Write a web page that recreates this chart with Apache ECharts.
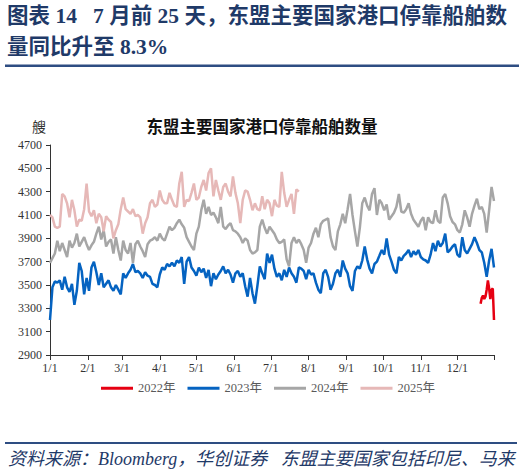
<!DOCTYPE html>
<html>
<head>
<meta charset="utf-8">
<script src="https://cdn.jsdelivr.net/npm/echarts@6/dist/echarts.min.js"></script>
<style>
html,body{margin:0;padding:0;background:#fff;}
#chart{width:524px;height:475px;}
</style>
</head>
<body>
<div id="chart"></div>
<script>
// ---------- data ----------
const monthLengths = [31,28,31,30,31,30,31,31,30,31,30,31];
const STEP = 2; // days between readings for 2023/2024/2025
const seriesNames = ['2022年','2023年','2024年','2025年'];

// 2022: daily readings for 12/20 - 12/31
const start2022 = 353;
const v2022 = [3340,3390,3410,3380,3400,3460,3540,3470,3380,3460,3470,3200];

const v2023 = [3200,3480,3530,3520,3540,3460,3570,3480,3440,3510,3330,3450,3690,3620,3420,3560,3450,3650,3700,3610,
3500,3600,3480,3510,3540,3480,3450,3500,3460,3420,3600,3560,3600,3630,3680,3610,3620,3600,3560,3610,
3580,3570,3510,3500,3480,3590,3650,3630,3680,3660,3690,3660,3710,3690,3740,3510,3700,3740,3650,3620,
3580,3650,3610,3640,3560,3630,3490,3600,3550,3590,3620,3660,3600,3630,3590,3520,3600,3620,3570,3600,
3490,3400,3560,3430,3340,3490,3660,3600,3550,3770,3690,3760,3640,3570,3600,3540,3630,3570,3650,3600,
3570,3520,3650,3640,3620,3550,3630,3590,3600,3520,3460,3430,3600,3630,3570,3460,3510,3600,3630,3570,
3710,3640,3600,3490,3450,3620,3660,3640,3710,3830,3720,3640,3600,3680,3700,3750,3800,3760,3900,3760,
3700,3630,3600,3740,3710,3750,3770,3800,3740,3790,3760,3800,3740,3720,3710,3690,3760,3860,3790,3880,
3830,3860,3940,3780,3800,3830,3850,3760,3740,3910,3800,3770,3810,3850,3910,3860,3800,3780,3690,3570,
3710,3810,3650];

const v2024 = [3690,3730,3770,3880,3790,3860,3800,3740,3880,3820,3860,3940,3830,3870,3910,3850,3800,3840,3870,3940,
4000,3890,3970,3830,3870,3890,3770,3910,3800,3710,3880,3800,3770,3860,3690,3850,3880,3830,3790,3740,
3850,3880,3890,3910,3880,3940,3900,3880,3940,4000,3970,3990,4030,4060,4020,3990,3910,3870,3830,3800,
3940,4000,4140,4230,4110,4170,4100,4120,4080,4030,4170,4000,3980,4010,4030,3970,3960,3940,3910,3860,
3900,3880,3800,3770,3780,3800,4000,4060,3990,3940,4000,3970,3940,3890,3860,3870,3890,3720,3660,3860,
3910,3860,3890,3850,3800,3690,3820,3860,3940,3990,3910,4020,4050,4060,4070,3910,3830,3800,3960,4020,
4110,4030,4150,4280,4100,3960,3830,3990,4200,4250,4180,4140,4280,4330,4100,4230,4200,4140,4190,4060,
4090,4120,4170,4280,4130,4120,4150,4200,4110,4060,4030,4000,4050,4080,3970,4080,4040,4030,4140,4050,
4030,4250,4280,4200,4090,4040,4020,3970,3950,4020,4140,4080,4000,4110,4180,4240,4150,4170,4110,3950,
4140,4340,4220];

const v2025 = [4100,4080,4000,3990,4000,4280,4260,4200,4080,4230,4140,4000,4060,4050,4150,4370,4130,4090,4140,4030,
4110,4080,3960,4090,4060,4040,3900,3970,4020,4150,4250,4150,4130,4110,4150,4090,4100,4080,3940,4030,
4080,4200,4230,4170,4190,4310,4230,4200,4200,4290,4230,4180,4170,4370,4470,4170,4230,4220,4290,4370,
4230,4250,4340,4400,4310,4460,4500,4260,4400,4310,4230,4340,4370,4300,4260,4430,4290,4200,4030,4230,
4310,4300,4230,4140,4200,4150,4140,4260,4150,4230,4200,4090,4230,4180,4170,4470,4290,4170,4230,4280,
4110,4320,4300];

const yMin = 2900, yMax = 4700, yStep = 200;

// ---------- build ----------
const categories = [];
const monthStartIdx = new Set();
monthLengths.forEach((len, m) => {
  monthStartIdx.add(categories.length);
  for (let d = 1; d <= len; d++) categories.push((m + 1) + '/' + d);
});
const lastIdx = categories.length - 1;

const pairs = (vals, start, step) => vals.map((v, i) => [start + i * step, v]);

const serif = "'Liberation Serif', 'Noto Sans CJK SC', serif";
const navy = '#1F3A68';

const chart = echarts.init(document.getElementById('chart'), null, {renderer: 'svg'});
chart.setOption({
  animation: false,
  backgroundColor: '#fff',
  title: [{
    text: '东盟主要国家港口停靠船舶数量',
    left: 'center',
    top: 114,
    textStyle: {fontFamily: serif, fontWeight: 'bold', fontSize: 16.5, color: '#111'}
  }],
  graphic: [
    {type: 'text', left: 7, top: 5, style: {text: '图表 14   7 月前 25 天，东盟主要国家港口停靠船舶数', font: "bold 21.5px 'Liberation Serif', 'Noto Sans CJK SC'", fill: navy}},
    {type: 'text', left: 7, top: 36, style: {text: '量同比升至 8.3%', font: "bold 21.5px 'Liberation Serif', 'Noto Sans CJK SC'", fill: navy}},
    {type: 'rect', shape: {x: 5, y: 64.5, width: 514, height: 2.5}, style: {fill: '#2E4D82'}},
    {type: 'text', left: 32, top: 119, style: {text: '艘', font: "14px 'Noto Sans CJK SC'", fill: '#333'}},
    {type: 'rect', shape: {x: 5, y: 442, width: 512, height: 2}, style: {fill: '#2E4D82'}},
    {type: 'text', left: 8, top: 450, style: {text: '资料来源：Bloomberg，华创证券   东盟主要国家包括印尼、马来', font: "italic 18px 'Liberation Serif', 'Noto Sans CJK SC'", fill: navy}}
  ],
  legend: {
    data: seriesNames,
    left: 101,
    top: 382,
    padding: 0,
    icon: 'rect',
    itemWidth: 32,
    itemHeight: 3,
    itemGap: 12,
    textStyle: {fontFamily: serif, fontSize: 12.5, color: '#595959'}
  },
  grid: {left: 50, right: 30, top: 145, bottom: 120},
  xAxis: {
    type: 'category',
    data: categories,
    boundaryGap: false,
    axisLine: {lineStyle: {color: '#333', width: 1}},
    axisTick: {show: true, length: 5, interval: (i) => monthStartIdx.has(i) || i === lastIdx, lineStyle: {color: '#333'}},
    axisLabel: {interval: (i) => monthStartIdx.has(i), fontFamily: serif, fontSize: 12, color: '#333', margin: 7},
    splitLine: {show: false}
  },
  yAxis: {
    type: 'value',
    min: yMin, max: yMax, interval: yStep,
    axisLine: {show: true, lineStyle: {color: '#333', width: 1}},
    axisTick: {show: true, length: 4, lineStyle: {color: '#333'}},
    axisLabel: {fontFamily: serif, fontSize: 12, color: '#333', margin: 8, formatter: (v) => String(v)},
    splitLine: {show: false}
  },
  series: [
    {name: seriesNames[0], type: 'line', data: pairs(v2022, start2022, 1), showSymbol: false, lineStyle: {width: 2.5, color: '#E60012'}, itemStyle: {color: '#E60012'}},
    {name: seriesNames[1], type: 'line', data: pairs(v2023, 0, STEP), showSymbol: false, lineStyle: {width: 2.5, color: '#0563C1'}, itemStyle: {color: '#0563C1'}},
    {name: seriesNames[2], type: 'line', data: pairs(v2024, 0, STEP), showSymbol: false, lineStyle: {width: 2.5, color: '#A6A6A6'}, itemStyle: {color: '#A6A6A6'}},
    {name: seriesNames[3], type: 'line', data: pairs(v2025, 0, STEP), showSymbol: false, lineStyle: {width: 2.5, color: '#E6B8B7'}, itemStyle: {color: '#E6B8B7'}}
  ]
});
</script>
</body>
</html>
